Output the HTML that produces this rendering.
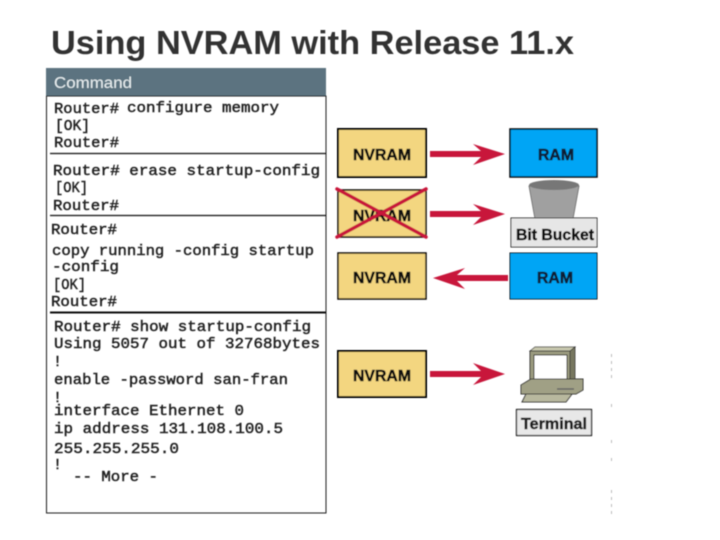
<!DOCTYPE html>
<html>
<head>
<meta charset="utf-8">
<style>
html,body{margin:0;padding:0;background:#fff}
svg{display:block}
.m{font-family:"Liberation Mono",monospace;font-size:14.500px;fill:#222;stroke:#222;stroke-width:.45}
.s{font-family:"Liberation Sans",sans-serif;font-weight:bold}
.h{stroke:#111;stroke-width:.5}
</style>
</head>
<body>
<svg width="720" height="540" viewBox="0 0 720 540" xmlns="http://www.w3.org/2000/svg">
<defs><filter id="b" x="-5%" y="-5%" width="110%" height="110%"><feGaussianBlur stdDeviation="0.45"/></filter></defs>
<g filter="url(#b)">
<text class="s" x="51" y="54" font-size="33.500" fill="#333" textLength="523" lengthAdjust="spacingAndGlyphs">Using NVRAM with Release 11.x</text>

<rect x="46" y="68" width="280" height="28.500" fill="#5b7380"/>
<text x="54" y="88" font-family="Liberation Sans,sans-serif" font-size="15.500" fill="#e8eef0" textLength="78" lengthAdjust="spacingAndGlyphs">Command</text>
<rect x="46.500" y="96" width="279.500" height="417" fill="none" stroke="#222" stroke-width="1"/>
<line x1="50" y1="153.500" x2="326" y2="153.500" stroke="#111" stroke-width="1.200"/>
<line x1="50" y1="215.500" x2="326" y2="215.500" stroke="#111" stroke-width="1.200"/>
<line x1="50" y1="312.500" x2="326" y2="312.500" stroke="#111" stroke-width="2"/>

<text class="m" x="54" y="113" textLength="65" lengthAdjust="spacingAndGlyphs">Router#</text>
<text class="m" x="127" y="112" textLength="152" lengthAdjust="spacingAndGlyphs">configure memory</text>
<text class="m" x="55" y="130" textLength="35" lengthAdjust="spacingAndGlyphs">[OK]</text>
<text class="m" x="54" y="147" textLength="65" lengthAdjust="spacingAndGlyphs">Router#</text>

<text class="m" x="53" y="175" textLength="267" lengthAdjust="spacingAndGlyphs">Router# erase startup-config</text>
<text class="m" x="55" y="192" textLength="33" lengthAdjust="spacingAndGlyphs">[OK]</text>
<text class="m" x="53" y="210" textLength="66" lengthAdjust="spacingAndGlyphs">Router#</text>

<text class="m" x="51" y="234" textLength="66" lengthAdjust="spacingAndGlyphs">Router#</text>
<text class="m" x="52" y="255" textLength="262" lengthAdjust="spacingAndGlyphs">copy running -config startup</text>
<text class="m" x="52" y="271" textLength="67" lengthAdjust="spacingAndGlyphs">-config</text>
<text class="m" x="53" y="289" textLength="33" lengthAdjust="spacingAndGlyphs">[OK]</text>
<text class="m" x="51" y="306" textLength="66" lengthAdjust="spacingAndGlyphs">Router#</text>

<text class="m" x="54" y="331" textLength="257" lengthAdjust="spacingAndGlyphs">Router# show startup-config</text>
<text class="m" x="54" y="348" textLength="266" lengthAdjust="spacingAndGlyphs">Using 5057 out of 32768bytes</text>
<text class="m" x="53" y="366" textLength="9" lengthAdjust="spacingAndGlyphs">!</text>
<text class="m" x="54" y="384" textLength="234" lengthAdjust="spacingAndGlyphs">enable -password san-fran</text>
<text class="m" x="53" y="402" textLength="9" lengthAdjust="spacingAndGlyphs">!</text>
<text class="m" x="54" y="415" textLength="190" lengthAdjust="spacingAndGlyphs">interface Ethernet 0</text>
<text class="m" x="54" y="433" textLength="229" lengthAdjust="spacingAndGlyphs">ip address 131.108.100.5</text>
<text class="m" x="54" y="453" textLength="125" lengthAdjust="spacingAndGlyphs">255.255.255.0</text>
<text class="m" x="53" y="469" textLength="9" lengthAdjust="spacingAndGlyphs">!</text>
<text class="m" x="73" y="481" textLength="85" lengthAdjust="spacingAndGlyphs">-- More -</text>

<g stroke="#000" fill="#f3d680">
<rect x="338" y="129" width="88" height="48" stroke-width="2"/>
<rect x="338" y="190" width="88" height="47" stroke-width="1.500"/>
<rect x="338" y="253" width="88" height="46" stroke-width="1.500"/>
<rect x="338" y="351" width="88" height="46" stroke-width="2"/>
</g>
<g font-size="15.500" fill="#111" font-family="Liberation Sans,sans-serif" font-weight="bold" class="h">
<text x="353" y="160" textLength="58" lengthAdjust="spacingAndGlyphs">NVRAM</text>
<text x="353" y="221" textLength="58" lengthAdjust="spacingAndGlyphs">NVRAM</text>
<text x="353" y="283" textLength="58" lengthAdjust="spacingAndGlyphs">NVRAM</text>
<text x="353" y="381" textLength="58" lengthAdjust="spacingAndGlyphs">NVRAM</text>
</g>

<g stroke="#000" fill="#00a5f5">
<rect x="510" y="129" width="87" height="48" stroke-width="1.500"/>
<rect x="510" y="253" width="87" height="46" stroke-width="1"/>
</g>
<text class="h" x="538" y="160" font-family="Liberation Sans,sans-serif" font-weight="bold" font-size="15.500" fill="#0a2440" textLength="36" lengthAdjust="spacingAndGlyphs">RAM</text>
<text class="h" x="537" y="283" font-family="Liberation Sans,sans-serif" font-weight="bold" font-size="15.500" fill="#0a2440" textLength="36" lengthAdjust="spacingAndGlyphs">RAM</text>

<g fill="#c8153a">
<polygon points="430,151 481,151 473,144 505,154 473,165 481,157 430,157"/>
<polygon points="430,211 481,211 473,204 505,214 473,225 481,217 430,217"/>
<polygon points="508,275 457,275 465,268 433,278 465,289 457,281 508,281"/>
<polygon points="430,371 481,371 473,363 505,374 473,385 481,377 430,377"/>
</g>
<g stroke="#c8153a" stroke-width="3.500" stroke-linecap="round">
<line x1="337" y1="189" x2="426" y2="237"/>
<line x1="337" y1="237" x2="426" y2="189"/>
</g>

<polygon points="529,186 579,186 573,219 535,219" fill="#a0a0a0" stroke="#666" stroke-width=".8"/>
<ellipse cx="554" cy="185" rx="25" ry="5" fill="#777"/>
<rect x="511" y="218" width="86" height="29" fill="#e6e6e6" stroke="#222" stroke-width="1"/>
<text class="h" x="516" y="240" font-family="Liberation Sans,sans-serif" font-weight="bold" font-size="15.500" fill="#111" textLength="78" lengthAdjust="spacingAndGlyphs">Bit Bucket</text>

<polygon points="530,351 535,347 575,347 570,351" fill="#c8c8ae" stroke="#333" stroke-width=".8"/>
<rect x="530" y="351" width="40" height="31" fill="#9a9a7e" stroke="#333" stroke-width="1"/>
<polygon points="570,351 575,347 575,379 570,382" fill="#77775e" stroke="#333" stroke-width=".8"/>
<rect x="534" y="355" width="33" height="24" fill="#fff" stroke="#222" stroke-width="1"/>
<polygon points="521,385 531,379 583,379 583,390 576,394 521,394" fill="#a0a085" stroke="#333" stroke-width="1"/>
<line x1="557" y1="389" x2="574" y2="389" stroke="#666" stroke-width="1.500"/>
<polygon points="526,394 572,394 566,402 522,402" fill="#b8b89e" stroke="#333" stroke-width="1"/>
<rect x="516.500" y="409.500" width="75" height="26" fill="#e8e8e8" stroke="#111" stroke-width="1.200"/>
<text class="h" x="521" y="429" font-family="Liberation Sans,sans-serif" font-weight="bold" font-size="15.500" fill="#222" textLength="66" lengthAdjust="spacingAndGlyphs">Terminal</text>

<g stroke="#bbb" stroke-width="1" stroke-dasharray="3 4">
<line x1="611.500" y1="354" x2="611.500" y2="382"/>
<line x1="611.500" y1="404" x2="611.500" y2="407"/>
<line x1="611.500" y1="440" x2="611.500" y2="443"/>
<line x1="611.500" y1="458" x2="611.500" y2="464"/>
<line x1="611.500" y1="490" x2="611.500" y2="514"/>
</g>
</g>
</svg>
</body>
</html>
